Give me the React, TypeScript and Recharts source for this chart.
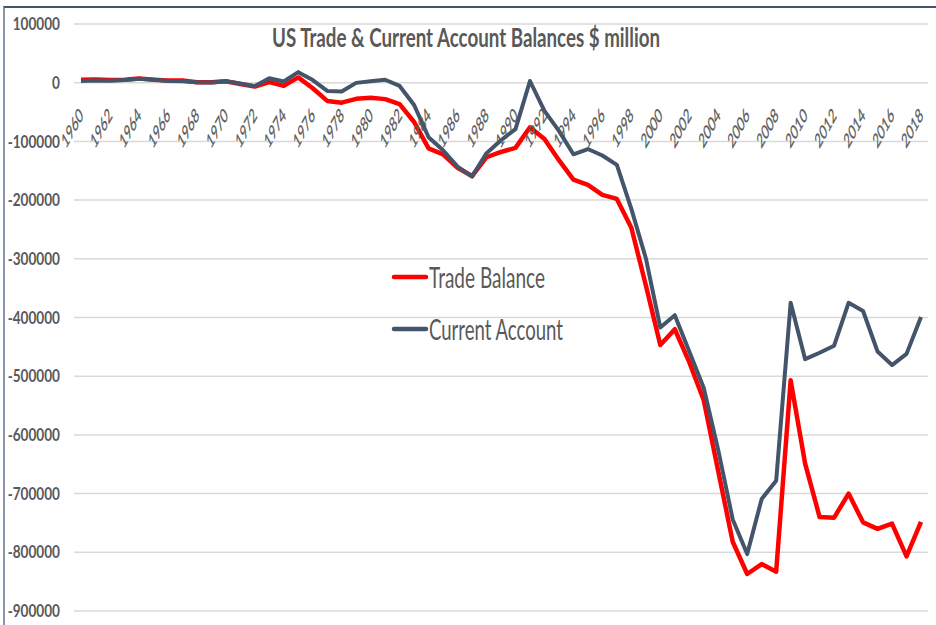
import { CartesianGrid, Legend, Line, LineChart, XAxis, YAxis } from "recharts";

const years = [
  "1960", "1961", "1962", "1963", "1964", "1965", "1966", "1967", "1968", "1969",
  "1970", "1971", "1972", "1973", "1974", "1975", "1976", "1977", "1978", "1979",
  "1980", "1981", "1982", "1983", "1984", "1985", "1986", "1987", "1988", "1989",
  "1990", "1991", "1992", "1993", "1994", "1995", "1996", "1997", "1998", "1999",
  "2000", "2001", "2002", "2003", "2004", "2005", "2006", "2007", "2008", "2009",
  "2010", "2011", "2012", "2013", "2014", "2015", "2016", "2017", "2018",
];

// $ million
const tradeBalance = [
  5000, 5500, 4500, 5000, 7000, 5000, 3800, 3800, 600, 600,
  2600, -2300, -6500, 900, -5500, 9000, -9500, -31000, -34000, -27500,
  -25500, -28000, -36500, -67000, -112000, -122000, -145000, -159000, -127000, -118000,
  -111000, -76000, -96000, -132000, -165000, -174000, -191000, -198000, -247000, -345000,
  -447000, -420000, -476000, -541000, -662000, -782000, -837000, -820000, -833000, -507000,
  -649000, -740000, -741000, -700000, -749000, -760000, -751000, -807000, -748000,
];

const currentAccount = [
  2800, 3800, 3400, 4400, 6800, 5400, 3000, 2600, 600, 400,
  2300, -1400, -5800, 7500, 2000, 18000, 4500, -14000, -15000, -300,
  2300, 5000, -5500, -38000, -93000, -115000, -143000, -160000, -120000, -98000,
  -79000, 2900, -48000, -82000, -122000, -113000, -124000, -140000, -215000, -299000,
  -417000, -396000, -458000, -520000, -626000, -744000, -803000, -709000, -678000, -375000,
  -471000, -460000, -448000, -375000, -389000, -458000, -481000, -462000, -399000,
];

const yTicks = [100000, 0, -100000, -200000, -300000, -400000, -500000, -600000, -700000, -800000, -900000];

const seriesOrder = ["trade", "current"];

const data = years.map((year, i) => ({
  year,
  trade: tradeBalance[i],
  current: currentAccount[i],
}));

const W = 936;
const H = 625;
const TOP = 24;
const X_AXIS_H = 14;
const PLOT_H = H - TOP - X_AXIS_H;
// year labels hang under the zero line, not the bottom of the plot
const ZERO_Y = TOP + PLOT_H * (100000 / 1000000);

const FONT = "Lato, 'Open Sans', sans-serif";
const TEXT = "#595959";
const RED = "#FF0000";
const SLATE = "#44546A";

const legendWidths: Record<string, number> = { trade: 116, current: 134 };

function YearTick({ x, payload }: any) {
  // rotate -45deg, then squeeze horizontally (the source image is squashed)
  return (
    <text
      transform={`translate(${x + 3},${ZERO_Y + 34}) scale(0.55,1) rotate(-45)`}
      textAnchor="end"
      textLength={46}
      lengthAdjust="spacingAndGlyphs"
      fill={TEXT}
      stroke={TEXT}
      strokeWidth={0.3}
      style={{ fontSize: 20, fontFamily: FONT }}
    >
      {payload.value}
    </text>
  );
}

function ValueTick({ x, y, payload }: any) {
  return (
    <text
      transform={`translate(${x},${y}) scale(0.8,1)`}
      textAnchor="end"
      dy="0.36em"
      fill={TEXT}
      style={{ fontSize: 17, fontWeight: 700, fontFamily: FONT }}
    >
      {payload.value}
    </text>
  );
}

function LegendBox({ payload }: any) {
  const items = [...(payload || [])].sort(
    (a: any, b: any) => seriesOrder.indexOf(a.dataKey) - seriesOrder.indexOf(b.dataKey)
  );
  return (
    <svg width={260} height={95} style={{ display: "block", overflow: "visible" }}>
      {items.map((p: any, i: number) => (
        <g key={p.dataKey} transform={`translate(0,${15 + i * 52})`}>
          <line x1={3} x2={35} y1={0} y2={0} stroke={p.color} strokeWidth={4.5} strokeLinecap="round" />
          <text
            x={38}
            y={11}
            textLength={legendWidths[p.dataKey]}
            lengthAdjust="spacingAndGlyphs"
            fill={TEXT}
            style={{ fontSize: 29, fontFamily: FONT }}
          >
            {p.value}
          </text>
        </g>
      ))}
    </svg>
  );
}

export default function App() {
  return (
    <div style={{ position: "absolute", left: 0, top: 0, width: W, height: H, overflow: "hidden", background: "#fff" }}>
      <div
        style={{
          position: "absolute",
          left: 3,
          top: 6,
          width: 980,
          height: 700,
          borderTop: `2px solid ${SLATE}`,
          borderLeft: "2px solid #8896AB",
        }}
      />
      <div style={{ position: "absolute", left: 0, top: 0 }}>
        <LineChart width={W} height={H} data={data} margin={{ top: TOP, right: 8, bottom: 0, left: 0 }}>
          <CartesianGrid vertical={false} stroke="#D9D9D9" strokeWidth={1.5} />
          <XAxis
            dataKey="year"
            interval={1}
            height={X_AXIS_H}
            padding={{ left: 7, right: 7 }}
            axisLine={false}
            tickLine={false}
            tickSize={0}
            tickMargin={0}
            tick={<YearTick />}
          />
          <YAxis
            domain={[-900000, 100000]}
            ticks={yTicks}
            width={74}
            axisLine={false}
            tickLine={false}
            tickSize={0}
            tickMargin={14}
            tick={<ValueTick />}
          />
          <Legend
            layout="vertical"
            align="center"
            verticalAlign="middle"
            wrapperStyle={{ left: 391, top: 262, width: 260 }}
            content={<LegendBox />}
          />
          <Line
            type="linear"
            dataKey="trade"
            name="Trade Balance"
            stroke={RED}
            strokeWidth={4.5}
            strokeLinejoin="round"
            dot={false}
            isAnimationActive={false}
          />
          <Line
            type="linear"
            dataKey="current"
            name="Current Account"
            stroke={SLATE}
            strokeWidth={4}
            strokeLinejoin="round"
            dot={false}
            isAnimationActive={false}
          />
        </LineChart>
      </div>
      <svg width={W} height={60} style={{ position: "absolute", left: 0, top: 0 }}>
        <text
          x={272}
          y={47}
          textLength={388}
          lengthAdjust="spacingAndGlyphs"
          fill={TEXT}
          style={{ fontSize: 26, fontWeight: 700, fontFamily: FONT }}
        >
          US Trade &amp; Current Account Balances $ million
        </text>
      </svg>
    </div>
  );
}
